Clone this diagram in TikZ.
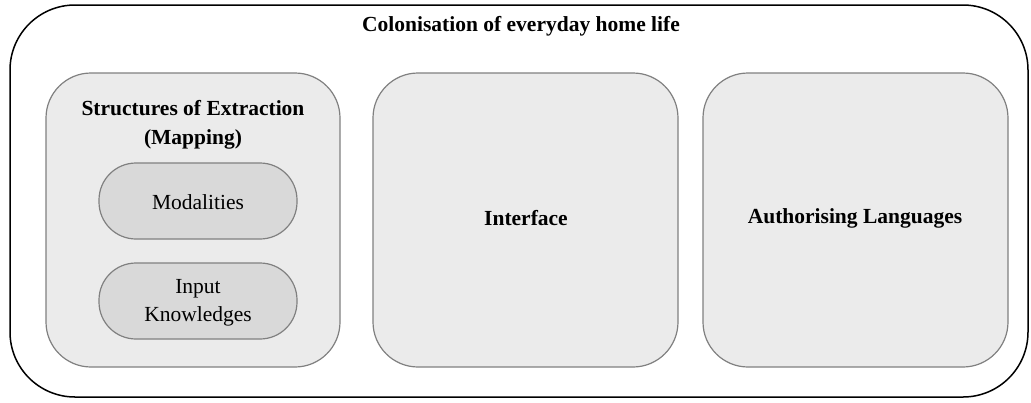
\documentclass[tikz,border=0pt]{standalone}
\usepackage{fontspec}
\setmainfont{Liberation Serif}
\begin{document}
\begin{tikzpicture}[x=1pt,y=-1pt,
  outerbox/.style={draw=black, line width=1.5pt, rounded corners=65pt},
  bigbox/.style={draw=black!50, fill=black!8, line width=1.2pt, rounded corners=45pt},
  pill/.style={draw=black!50, fill=black!15, line width=1.2pt, rounded corners=37pt},
  lbl/.style={font=\fontsize{21.5}{28.5}\selectfont, align=center, inner sep=0pt},
  blbl/.style={lbl, font=\fontsize{21.5}{29.5}\selectfont\bfseries}
]
\useasboundingbox (0,0) rectangle (1031,402);
\draw[outerbox] (10,5) rectangle (1028,397);
\node[blbl] (title) at (521,26) {Colonisation of everyday home life};

\draw[bigbox] (46,73) rectangle (340,367);
\node[blbl] (sx) at (193,125) {Structures of Extraction\\(Mapping)};
\draw[pill] (99,163) rectangle (297,239);
\node[lbl] (mod) at (198,202) {Modalities};
\draw[pill] (99,263) rectangle (297,339);
\node[lbl] (ik) at (198,303) {Input\\Knowledges};

\draw[bigbox] (373,73) rectangle (678,367);
\node[blbl] (int) at (526,218) {Interface};

\draw[bigbox] (703,73) rectangle (1008,367);
\node[blbl] (auth) at (855,218) {Authorising Languages};
\end{tikzpicture}
\end{document}
